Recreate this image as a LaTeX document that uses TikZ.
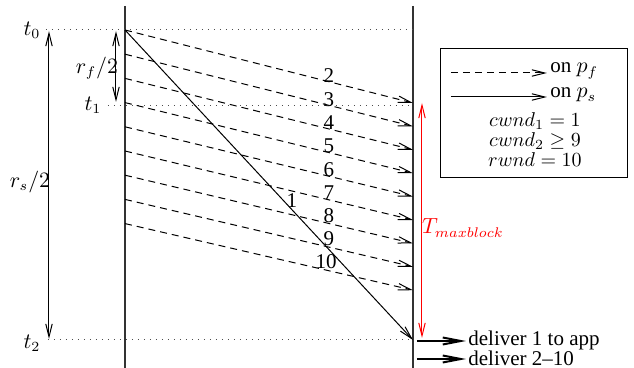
\documentclass[tikz,border=0pt]{standalone}
\usepackage{fontspec}
\setmainfont{Liberation Serif}
\usetikzlibrary{arrows.meta}
\begin{document}
\begin{tikzpicture}[x=0.5pt,y=-0.5pt,
  font=\fontsize{10.5}{12}\selectfont,
  barb/.style={-{Straight Barb[length=6.5pt,width=3.2pt]}},
  dbarb/.style={{Straight Barb[length=6.5pt,width=3.2pt]}-{Straight Barb[length=6.5pt,width=3.2pt]}},
  thin line/.style={line width=0.5pt},
  dashline/.style={thin line,dash pattern=on 3.5pt off 2.5pt},
  dotline/.style={thin line,dash pattern=on 0.5pt off 2.5pt,black!70},
  lbl/.style={inner sep=0pt}]
\useasboundingbox (0,0) rectangle (634,368);
% time lines
\coordinate (Ltop) at (125,6);
\coordinate (Lbot) at (125,368);
\coordinate (Rtop) at (413,6);
\coordinate (Rbot) at (413,368);
\draw[line width=0.6pt,black!80] (Ltop) -- (Lbot);
\draw[line width=0.6pt,black!80] (Rtop) -- (Rbot);
% time marks
\node[lbl] (t0) at (32,30) {$t_0$};
\node[lbl] (t1) at (93,105) {$t_1$};
\node[lbl] (t2) at (32,343) {$t_2$};
\coordinate (d0a) at (46,30);  \coordinate (d0b) at (413,30);
\coordinate (d1a) at (108,106); \coordinate (d1b) at (413,106);
\coordinate (d2a) at (48,340); \coordinate (d2b) at (413,340);
\draw[dotline] (d0a) -- (d0b);
\draw[dotline] (d1a) -- (d1b);
\draw[dotline] (d2a) -- (d2b);
% dashed packets 2..10
\foreach \i in {0,...,8}{
  \coordinate (s\i) at (125,{30+24.2*\i});
  \coordinate (e\i) at (413,{103+23.4*\i});
  \draw[dashline,barb] (s\i) -- (e\i);
}
\foreach \k in {2,...,9}{
  \node[lbl] (n\k) at (329,{76+23.3*(\k-2)}) {\k};
}
\node[lbl] (n10) at (326,262) {10};
% solid packet 1
\coordinate (p1s) at (125,30);
\coordinate (p1e) at (413,340);
\draw[thin line,barb] (p1s) -- (p1e);
\node[lbl] (n1) at (292,201) {1};
% left arrows
\coordinate (rsA) at (49,31); \coordinate (rsB) at (49,339);
\draw[thin line,dbarb] (rsA) -- (rsB);
\node[lbl] (rs) at (30,182) {$r_s/2$};
\coordinate (rfA) at (116,31); \coordinate (rfB) at (116,102);
\draw[thin line,dbarb] (rfA) -- (rfB);
\node[lbl] (rf) at (97,68) {$r_f/2$};
% red T_maxblock
\coordinate (tmA) at (422,103); \coordinate (tmB) at (422,338);
\draw[thin line,red,dbarb] (tmA) -- (tmB);
\node[lbl,red] (tm) at (463,228) {$T_{maxblock}$};
% legend
\node[draw,thin line,minimum width=93.5pt,minimum height=64.5pt,inner sep=0pt] (leg) at (534.5,113.5) {};
\coordinate (lg1a) at (451,73); \coordinate (lg1b) at (547,73);
\coordinate (lg2a) at (451,97); \coordinate (lg2b) at (547,97);
\draw[dashline,barb] (lg1a) -- (lg1b);
\draw[thin line,barb] (lg2a) -- (lg2b);
\node[lbl,anchor=west] (onpf) at (550,71) {on $p_f$};
\node[lbl,anchor=west] (onps) at (550,95) {on $p_s$};
\node[lbl,align=center,font=\fontsize{10}{10}\selectfont] (cw) at (535,140)
  {$cwnd_1 = 1$\\$cwnd_2 \geq 9$\\$rwnd = 10$};
% deliveries
\coordinate (dl1a) at (417,341); \coordinate (dl1b) at (466,341);
\coordinate (dl2a) at (417,359); \coordinate (dl2b) at (466,359);
\draw[line width=1pt,-{Straight Barb[length=9pt,width=3.5pt]}] (dl1a) -- (dl1b);
\draw[line width=1pt,-{Straight Barb[length=9pt,width=3.5pt]}] (dl2a) -- (dl2b);
\node[lbl,anchor=west] (dv1) at (468,340) {deliver 1 to app};
\node[lbl,anchor=west] (dv2) at (468,358) {deliver 2--10};
\end{tikzpicture}
\end{document}
